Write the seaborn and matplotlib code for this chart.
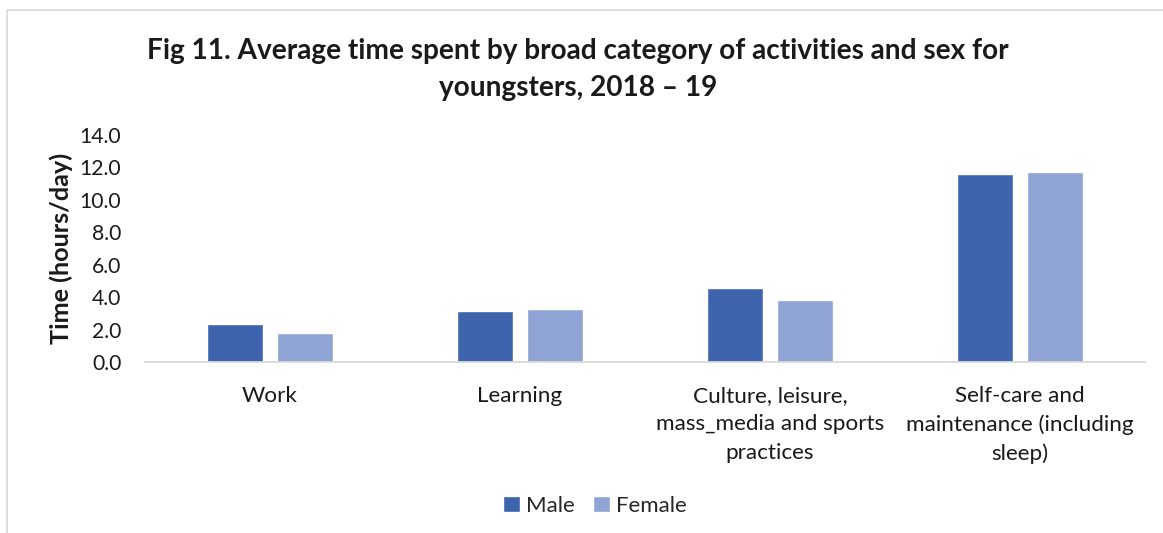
import matplotlib
matplotlib.use("Agg")
import matplotlib.pyplot as plt
import matplotlib.patches as mpatches
import seaborn as sns
import pandas as pd

categories = ["Work", "Learning", "Culture, leisure,\nmass_media and sports\npractices",
              "Self-care and\nmaintenance (including\nsleep)"]
male = [2.35, 3.15, 4.55, 11.58]
female = [1.77, 3.27, 3.85, 11.69]
series = ["Male", "Female"]
yticks = [0, 2, 4, 6, 8, 10, 12, 14]

df = pd.DataFrame({
    "cat": categories * 2,
    "sex": ["Male"] * 4 + ["Female"] * 4,
    "val": male + female,
})

sns.set_theme(style="white")
plt.rcParams["font.family"] = ["Lato", "DejaVu Sans"]

W, H = 1163, 533
fig = plt.figure(figsize=(W / 100, H / 100), dpi=100)
ax = fig.add_axes([145 / W, (H - 362) / H, 1000 / W, (362 - 135) / H])

sns.barplot(data=df, x="cat", y="val", hue="sex", hue_order=series,
            palette={"Male": "#3E64AD", "Female": "#8FA3D4"},
            width=0.566, gap=0.21, ax=ax, saturation=1, errorbar=None)

ax.set_ylim(0, 14)
ax.set_xlim(-0.5, 3.5)
ax.set_yticks(yticks)
ax.set_yticklabels([f"{v:.1f}" for v in yticks], fontsize=15.2, color="#1a1a1a")
ax.set_xticks(range(len(categories)))
ax.set_xticklabels(categories, fontsize=16.2, color="#1a1a1a", linespacing=1.53)
ax.tick_params(axis="x", pad=17, length=0)
ax.tick_params(axis="y", length=0, pad=17)
ax.set_xlabel("")
ax.set_ylabel("Time (hours/day)", fontsize=18.2, fontweight="bold", color="#1a1a1a", labelpad=5)
for s in ["top", "right", "left"]:
    ax.spines[s].set_visible(False)
ax.spines["bottom"].set_color("#d9d9d9")
ax.spines["bottom"].set_linewidth(1.3)
ax.grid(False)

sns.move_legend(ax, "center", bbox_to_anchor=(595 / W, 1 - 506 / H), bbox_transform=fig.transFigure,
                ncol=2, frameon=False, title=None, fontsize=16, handlelength=0.75,
                handleheight=0.75, handletextpad=0.3, columnspacing=0.8)

fig.text(578 / W, 1 - 69.5 / H,
         "Fig 11. Average time spent by broad category of activities and sex for\nyoungsters, 2018 \u2013 19",
         ha="center", va="center", fontsize=20.2, fontweight="bold", color="#1a1a1a",
         linespacing=1.52)

fig.patches.append(mpatches.Rectangle((7 / W, -0.1), 1.2, 1 - 10 / H + 0.1,
                                      transform=fig.transFigure, fill=False,
                                      edgecolor="#d9d9d9", linewidth=1.2))

fig.savefig("out.png", dpi=100, facecolor="white")
